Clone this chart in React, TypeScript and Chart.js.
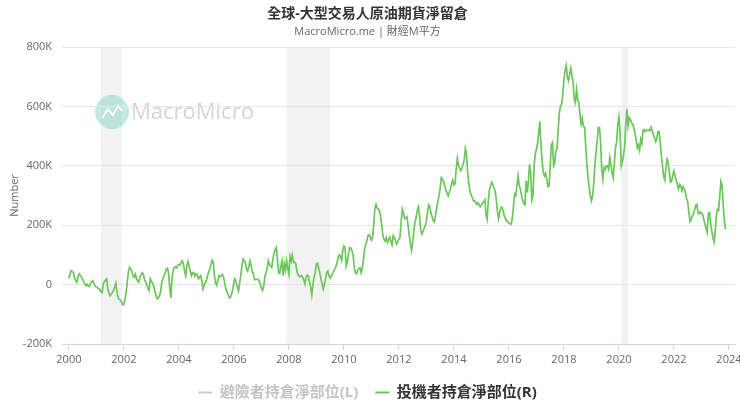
import React, { useEffect, useRef } from 'react';
import { Chart, registerables } from 'chart.js';

Chart.register(...registerables);

const FONT = "'Open Sans', 'Noto Sans CJK TC', sans-serif";

const chartTitle = '全球-大型交易人原油期貨淨留倉';
const chartSubtitle = 'MacroMicro.me | 財經M平方';
const yAxisTitle = 'Number';
const legendLabels = ['避險者持倉淨部位(L)', '投機者持倉淨部位(R)'];
const legendColors = ['#cccccc', '#6cc65c'];
const legendTextColors = ['#c4c4c4', '#333333'];
const watermarkText = 'MacroMicro';

// x axis (years) and y axis (thousands of contracts)
const yearTicks = [2000, 2002, 2004, 2006, 2008, 2010, 2012, 2014, 2016, 2018, 2020, 2022, 2024];
const xMin = 1999.75;
const xMax = 2024.22;
const yMin = -200;
const yMax = 800;
const yStep = 200;

// recession shading (start month, end month)
const recessionStart = ['2001-03', '2007-12', '2020-02'];
const recessionEnd = ['2001-11', '2009-06', '2020-04'];

// Speculators' net position (K), two readings per month
const spec2000 = [21, 35, 47, 44, 40, 22, 12, 8, 28, 36, 31, 25, 18, 9, 2, -4, 1, -5, -6, 6, 10, 13, 2, -5];
const spec2001 = [-8, -10, -14, -17, -24, -27, 2, 10, 15, 19, -15, -30, -37, -32, -26, -20, -8, 5, -25, -45, -50, -52, -58, -68];
const spec2002 = [-65, -50, -25, 10, 45, 58, 52, 45, 30, 25, 36, 20, 12, 8, 25, 32, 40, 35, 18, 8, 0, -12, -20, 20];
const spec2003 = [12, 5, -5, -20, -35, -48, -45, -38, -25, 5, 20, 30, 40, 52, 55, 38, -10, -45, 20, 45, 58, 60, 56, 65];
const spec2004 = [68, 66, 74, 80, 68, 45, 30, 65, 78, 60, 45, 30, 40, 40, 28, 36, 35, 20, 25, 30, 13, -15, -5, 8];
const spec2005 = [13, 30, 42, 52, 68, 82, 75, 30, 5, -3, 15, 30, 26, 30, 34, 25, 5, -15, -24, -34, -45, -44, -31, -18];
const spec2006 = [10, 19, 8, -10, -22, 5, 30, 64, 86, 82, 74, 52, 45, 60, 80, 65, 45, 35, 16, 18, 18, 18, 12, 4];
const spec2007 = [-13, -20, -5, 25, 40, 55, 80, 68, 62, 58, 85, 105, 118, 125, 85, 40, 37, 62, 80, 30, 70, 50, 80, 55];
const spec2008 = [35, 95, 80, 100, 75, 75, 70, 45, 33, 28, 27, 30, 25, 16, 2, 25, 32, 30, 6, -8, -35, 0, 25, 41];
const spec2009 = [70, 72, 55, 38, 20, 2, -15, 0, 20, 40, 45, 30, 22, 28, 35, 45, 52, 60, 75, 92, 100, 95, 82, 115];
const spec2010 = [130, 125, 62, 75, 105, 124, 123, 115, 100, 60, 40, 36, 48, 55, 57, 40, 55, 85, 118, 135, 146, 165, 168, 160];
const spec2011 = [150, 158, 200, 255, 270, 258, 254, 250, 230, 200, 165, 152, 146, 158, 142, 150, 160, 145, 133, 165, 158, 148, 137, 145];
const spec2012 = [152, 160, 215, 254, 240, 222, 224, 228, 198, 165, 140, 115, 140, 180, 210, 225, 250, 262, 230, 185, 170, 178, 190, 197];
const spec2013 = [214, 245, 268, 262, 240, 228, 215, 211, 235, 258, 280, 299, 325, 360, 355, 346, 332, 318, 308, 299, 310, 322, 340, 352];
const spec2014 = [335, 340, 390, 425, 400, 392, 384, 392, 405, 420, 458, 440, 375, 340, 315, 302, 294, 282, 282, 276, 270, 276, 268, 262];
const spec2015 = [268, 275, 278, 285, 235, 220, 282, 320, 332, 345, 338, 325, 315, 285, 245, 222, 245, 260, 260, 248, 232, 222, 214, 212];
const spec2016 = [208, 204, 204, 225, 265, 305, 300, 335, 365, 333, 322, 300, 285, 272, 268, 350, 310, 350, 405, 375, 285, 300, 400, 440];
const spec2017 = [455, 475, 510, 550, 470, 416, 377, 366, 375, 355, 330, 333, 395, 470, 478, 400, 410, 450, 456, 523, 579, 601, 607, 640];
const spec2018 = [690, 722, 738, 697, 686, 708, 728, 702, 682, 624, 612, 657, 624, 612, 573, 540, 559, 534, 530, 467, 405, 361, 327, 299];
const spec2019 = [282, 299, 338, 400, 445, 484, 529, 529, 478, 388, 355, 394, 388, 400, 400, 388, 428, 405, 375, 360, 410, 460, 480, 540];
const spec2020 = [565, 510, 400, 415, 436, 466, 540, 590, 535, 562, 556, 545, 541, 527, 510, 487, 460, 470, 452, 489, 475, 520, 522, 515];
const spec2021 = [520, 520, 520, 518, 530, 518, 506, 494, 481, 487, 515, 515, 480, 435, 398, 365, 352, 395, 422, 412, 375, 345, 348, 370];
const spec2022 = [383, 365, 352, 336, 322, 337, 332, 316, 330, 322, 310, 290, 280, 245, 212, 218, 232, 238, 250, 268, 270, 240, 238, 245];
const spec2023 = [240, 236, 220, 205, 190, 176, 240, 243, 205, 180, 158, 143, 175, 232, 254, 250, 300, 348, 335, 266, 215, 187];

const specYears = [2000, 2001, 2002, 2003, 2004, 2005, 2006, 2007, 2008, 2009, 2010, 2011,
  2012, 2013, 2014, 2015, 2016, 2017, 2018, 2019, 2020, 2021, 2022, 2023];
const specSeries = [spec2000, spec2001, spec2002, spec2003, spec2004, spec2005, spec2006, spec2007,
  spec2008, spec2009, spec2010, spec2011, spec2012, spec2013, spec2014, spec2015, spec2016,
  spec2017, spec2018, spec2019, spec2020, spec2021, spec2022, spec2023];

function monthStart(s: string) {
  const [y, m] = s.split('-').map(Number);
  return y + (m - 1) / 12;
}
function monthEnd(s: string) {
  const [y, m] = s.split('-').map(Number);
  return y + m / 12;
}

export default function App() {
  const ref = useRef<HTMLCanvasElement>(null);

  useEffect(() => {
    if (!ref.current) return;
    const points: { x: number; y: number }[] = [];
    specYears.forEach((yr, i) => {
      specSeries[i].forEach((v, k) => points.push({ x: yr + k / 24, y: v }));
    });

    const backdrop = {
      id: 'backdrop',
      beforeDraw(chart: any) {
        const { ctx, chartArea, scales } = chart;
        ctx.save();
        ctx.fillStyle = '#f2f2f2';
        recessionStart.forEach((s, i) => {
          const x0 = scales.x.getPixelForValue(monthStart(s));
          const x1 = scales.x.getPixelForValue(monthEnd(recessionEnd[i]));
          ctx.fillRect(x0, chartArea.top, x1 - x0, chartArea.bottom - chartArea.top);
        });
        // watermark
        const cx = chartArea.left + 50;
        const cy = chartArea.top + 65;
        ctx.fillStyle = 'rgba(120, 208, 192, 0.45)';
        ctx.beginPath();
        ctx.arc(cx, cy, 17, 0, Math.PI * 2);
        ctx.fill();
        ctx.strokeStyle = 'rgba(255,255,255,0.95)';
        ctx.lineWidth = 2;
        ctx.beginPath();
        ctx.moveTo(cx - 10, cy + 6);
        ctx.lineTo(cx - 4, cy - 3);
        ctx.lineTo(cx + 1, cy + 3);
        ctx.lineTo(cx + 6, cy - 6);
        ctx.lineTo(cx + 10, cy - 1);
        ctx.stroke();
        ctx.fillStyle = 'rgba(170, 170, 170, 0.5)';
        ctx.font = `22px ${FONT}`;
        ctx.textBaseline = 'middle';
        ctx.textAlign = 'left';
        ctx.fillText(watermarkText, cx + 19, cy + 1);
        ctx.restore();
      },
    };

    const chart = new Chart(ref.current, {
      type: 'line',
      data: {
        datasets: [
          {
            label: legendLabels[1],
            data: points,
            borderColor: legendColors[1],
            backgroundColor: legendColors[1],
            borderWidth: 1.7,
            pointRadius: 0,
            tension: 0,
            fill: false,
          },
        ],
      },
      options: {
        animation: false,
        responsive: false,
        parsing: false as any,
        layout: { padding: { left: 0, right: 5, top: 0, bottom: 6 } },
        font: { family: FONT },
        scales: {
          x: {
            type: 'linear',
            min: xMin,
            max: xMax,
            afterBuildTicks: (s: any) => {
              s.ticks = yearTicks.map((v) => ({ value: v }));
            },
            afterFit: (s: any) => {
              s.height = 24;
              s.paddingLeft = 0;
              s.paddingRight = 0;
            },
            ticks: {
              callback: (v: any) => String(v),
              autoSkip: false,
              maxRotation: 0,
              color: '#666666',
              padding: 3,
              font: { size: 11, family: FONT },
            },
            grid: { drawOnChartArea: false, drawTicks: true, tickLength: 6, color: '#ccd6eb' },
            border: { display: true, color: '#ccd6eb' },
          },
          y: {
            min: yMin,
            max: yMax,
            afterFit: (s: any) => {
              s.width = 62;
            },
            ticks: {
              stepSize: yStep,
              callback: (v: any) => (v === 0 ? '0' : `${v}K`),
              color: '#666666',
              padding: 10,
              font: { size: 11, family: FONT },
            },
            grid: { color: '#e6e6e6', drawTicks: false },
            border: { display: false },
            title: {
              display: true,
              text: yAxisTitle,
              color: '#666666',
              font: { size: 11, family: FONT },
              padding: { top: 8, bottom: 0 },
            },
          },
        },
        plugins: {
          title: {
            display: true,
            text: chartTitle,
            color: '#333333',
            font: { size: 14, weight: 'bold', family: FONT },
            padding: { top: 6, bottom: 2 },
          },
          subtitle: {
            display: true,
            text: chartSubtitle,
            color: '#666666',
            font: { size: 11, family: FONT },
            padding: { top: 0, bottom: 9 },
          },
          legend: {
            position: 'bottom',
            onClick: () => {},
            labels: {
              boxWidth: 14,
              boxHeight: 2,
              padding: 17,
              font: { size: 15, weight: 'bold', family: FONT },
              generateLabels: () =>
                legendLabels.map((t, i) => ({
                  text: t,
                  fillStyle: legendColors[i],
                  strokeStyle: legendColors[i],
                  lineWidth: 0,
                  fontColor: legendTextColors[i],
                  hidden: false,
                  datasetIndex: i,
                })),
            },
          },
          tooltip: { enabled: false },
        },
      },
      plugins: [backdrop],
    } as any);

    return () => chart.destroy();
  }, []);

  return (
    <div style={{ position: 'absolute', left: 0, top: 0, width: 740, height: 416, background: '#ffffff' }}>
      <canvas ref={ref} width={740} height={416} />
    </div>
  );
}
